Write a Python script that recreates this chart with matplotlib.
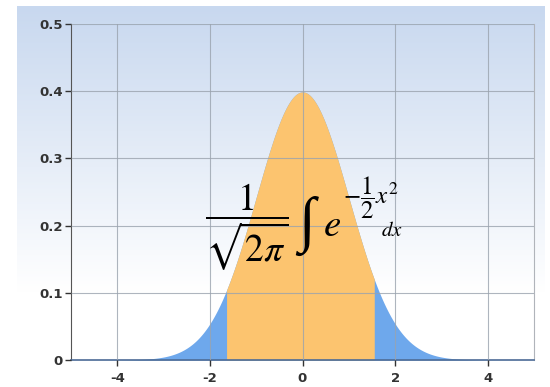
import matplotlib.pyplot as plt, numpy as np
from matplotlib.colors import LinearSegmentedColormap

plt.rcParams['mathtext.fontset'] = 'stix'

# standard normal density and the shaded interval
x_min, x_max = -5, 5
lo, hi = -1.64, 1.55
x_ticks = [-4, -2, 0, 2, 4]
x_labels = ['-4', '-2', '0', '2', '4']
y_ticks = [0, 0.1, 0.2, 0.3, 0.4, 0.5]
y_labels = ['0', '0.1', '0.2', '0.3', '0.4', '0.5']

blue = '#6ea8ec'
orange = '#fcc46f'


def pdf(x):
    return np.exp(-0.5 * x ** 2) / np.sqrt(2 * np.pi)


fig = plt.figure(figsize=(5.5, 3.87), dpi=100, facecolor='white')

# gradient panel behind the plot
bg = fig.add_axes([17 / 550, 0, 528 / 550, 381 / 387], zorder=0)
grad = np.linspace(0, 1, 256).reshape(-1, 1)
cmap = LinearSegmentedColormap.from_list('bg', [(0, '#c8d8ef'), (0.75, '#ffffff'), (1, '#ffffff')])
bg.imshow(grad, aspect='auto', cmap=cmap, extent=[0, 1, 0, 1], origin='upper')
bg.axis('off')

ax = fig.add_axes([71 / 550, 1 - 360 / 387, 463 / 550, 336 / 387], zorder=1)
ax.patch.set_alpha(0)

xs = np.linspace(x_min, x_max, 1001)
ax.fill_between(xs, 0, pdf(xs), color=blue, lw=0, zorder=1)
xm = np.linspace(lo, hi, 500)
ax.fill_between(xm, 0, pdf(xm), color=orange, lw=0, zorder=2)

ax.set_xlim(x_min, x_max)
ax.set_ylim(0, 0.5)
ax.set_xticks(x_ticks)
ax.set_xticklabels(x_labels)
ax.set_yticks(y_ticks)
ax.set_yticklabels(y_labels)
ax.grid(True, color='#9aa3ae', lw=0.8, alpha=0.8, zorder=3)
ax.set_axisbelow(False)
for lab in ax.get_xticklabels() + ax.get_yticklabels():
    lab.set_fontweight('bold')
ax.tick_params(length=4, width=1, color='#333333', labelsize=9.5, labelcolor='#333333', pad=2)
ax.tick_params(axis='x', pad=5)

ax.spines['left'].set_color('#555555')
ax.spines['bottom'].set_color('#4a6a96')
ax.spines['bottom'].set_linewidth(1.2)
ax.spines['top'].set_visible(False)
ax.spines['right'].set_color('#b0b4ba')

# the formula, set piece by piece
ax.text(-1.2, 0.198, r'$\dfrac{1}{\sqrt{2\pi}}$', fontsize=27, ha='center', va='center', zorder=5)
ax.text(0.08, 0.2, '\u222b', family=['Liberation Serif', 'DejaVu Serif'], fontsize=44,
        ha='center', va='center', zorder=5)
ax.text(0.435, 0.184, r'$e$', fontsize=28, ha='left', va='baseline', zorder=5)
ax.text(0.88, 0.242, r'$-\dfrac{1}{2}x^2$', fontsize=18, ha='left', va='center', zorder=5)
ax.text(1.70, 0.185, r'$dx$', fontsize=15, ha='left', va='baseline', zorder=5)

plt.savefig('out.png', dpi=100)
